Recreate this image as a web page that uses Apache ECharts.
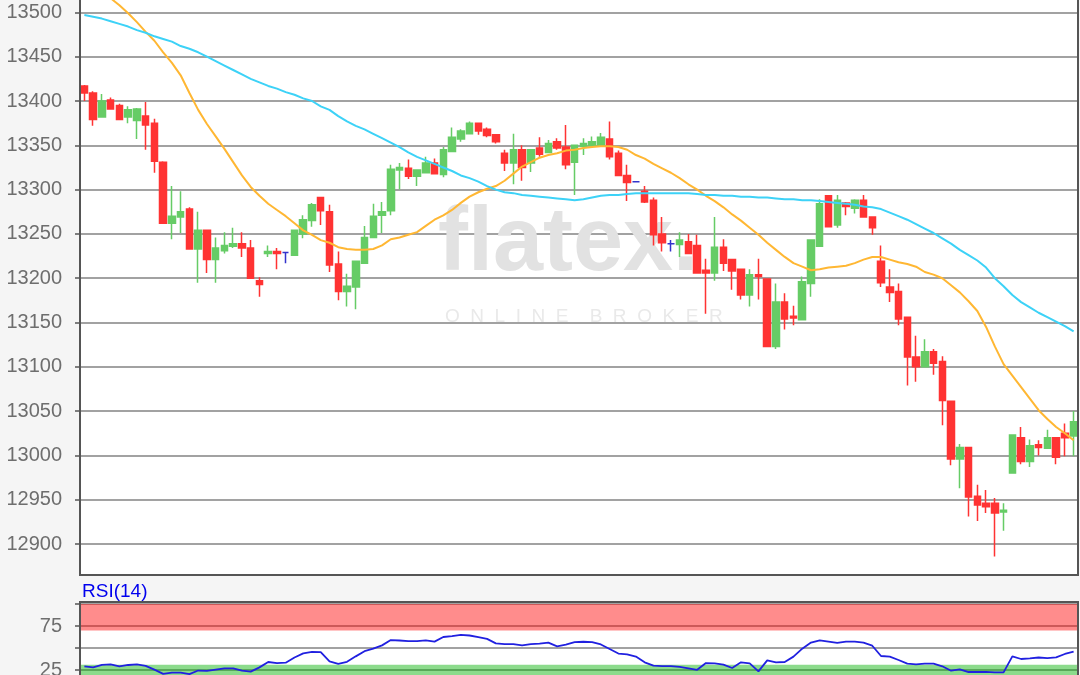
<!DOCTYPE html>
<html><head><meta charset="utf-8">
<script src="https://cdn.jsdelivr.net/npm/echarts@6/dist/echarts.min.js"></script>
<style>html,body{margin:0;padding:0;background:#f5f5f5;overflow:hidden;width:1080px;height:675px;position:relative;}#c{position:absolute;left:0;top:-40px;width:1080px;height:760px;}</style>
</head><body><div id="c"></div>
<script>
// OHLC values
const open  = [13417,13409,13382,13401,13395,13382,13378,13383,13375,13331,13262,13269,13278,13233,13254,13221,13231,13236,13239,13234,13197,13228,13230,13229,13226,13250,13265,13291,13275,13216,13185,13190,13217,13246,13271,13276,13322,13324,13315,13319,13330,13317,13343,13357,13363,13375,13368,13362,13341,13330,13345,13330,13347,13342,13354,13348,13331,13349,13350,13350,13357,13341,13316,13309,13298,13288,13250,13239,13238,13241,13237,13209,13206,13235,13221,13210,13181,13204,13199,13123,13173,13157,13153,13194,13236,13293,13260,13285,13279,13288,13269,13219,13190,13185,13156,13111,13100,13117,13106,13061,12996,13009,12954,12946,12946,12936,12980,13020,12993,13012,13008,13020,13025,13022];
const close = [13409,13379,13400,13391,13379,13390,13391,13373,13332,13262,13270,13275,13233,13254,13221,13234,13237,13239,13234,13200,13193,13230,13228,13229,13254,13266,13283,13276,13215,13185,13191,13219,13246,13270,13275,13323,13325,13315,13322,13330,13318,13345,13359,13366,13375,13366,13361,13354,13330,13345,13325,13345,13340,13352,13347,13328,13350,13352,13354,13359,13337,13316,13308,13309,13286,13249,13240,13239,13243,13228,13206,13206,13235,13217,13208,13181,13204,13202,13123,13173,13154,13155,13196,13243,13284,13258,13288,13281,13288,13269,13257,13195,13184,13154,13111,13100,13117,13104,13062,12996,13009,12953,12944,12942,12935,12938,13023,12993,13011,13009,13020,12998,13020,13038];
const low   = [13400,13372,13382,13391,13379,13375,13357,13345,13319,13262,13244,13251,13233,13195,13206,13195,13228,13234,13224,13200,13179,13224,13210,13217,13226,13245,13258,13260,13207,13175,13168,13165,13217,13246,13251,13271,13300,13312,13304,13319,13318,13314,13343,13354,13363,13362,13359,13352,13321,13306,13310,13320,13337,13342,13345,13323,13294,13339,13348,13350,13334,13316,13287,13309,13285,13237,13230,13230,13224,13228,13206,13160,13197,13208,13187,13176,13168,13176,13123,13120,13142,13147,13153,13179,13236,13258,13257,13271,13273,13269,13249,13190,13173,13147,13079,13083,13100,13091,13034,12989,12963,12931,12926,12935,12886,12915,12980,12990,12987,13000,13008,12990,12999,12999];
const high  = [13418,13411,13408,13404,13397,13394,13392,13399,13380,13332,13304,13298,13280,13275,13255,13246,13252,13257,13252,13243,13201,13237,13234,13229,13255,13271,13285,13291,13283,13230,13205,13219,13259,13284,13286,13328,13330,13334,13322,13337,13335,13348,13370,13368,13377,13375,13370,13362,13345,13363,13350,13345,13359,13356,13358,13373,13350,13358,13360,13364,13377,13344,13328,13309,13304,13291,13269,13243,13252,13250,13249,13222,13269,13244,13221,13210,13210,13222,13199,13194,13183,13169,13202,13243,13289,13294,13294,13286,13289,13294,13269,13237,13210,13194,13156,13135,13131,13120,13112,13061,13013,13009,12967,12961,12952,12946,13023,13032,13018,13017,13029,13020,13036,13050];
// moving averages
const maFast = [13545,13538,13530,13516,13508,13499,13489,13478,13468,13455,13443,13429,13409,13390,13374,13360,13346,13331,13316,13303,13293,13284,13277,13270,13262,13254,13249,13243,13240,13235,13233,13232,13232,13233,13237,13244,13246,13249,13252,13259,13266,13271,13277,13285,13292,13297,13301,13304,13310,13318,13326,13331,13336,13339,13341,13344,13345,13347,13348,13349,13349,13348,13345,13339,13335,13329,13324,13319,13313,13306,13300,13293,13287,13280,13272,13265,13257,13249,13240,13232,13224,13217,13213,13209,13210,13212,13213,13214,13217,13221,13224,13224,13221,13218,13216,13213,13207,13204,13200,13192,13184,13174,13163,13145,13123,13103,13090,13077,13064,13051,13041,13032,13025,13017];
const maSlow = [13497,13495,13493,13490,13487,13484,13480,13477,13473,13470,13467,13462,13459,13455,13450,13445,13440,13435,13430,13425,13421,13417,13414,13410,13407,13403,13400,13394,13390,13383,13377,13372,13368,13363,13358,13353,13348,13342,13337,13333,13329,13325,13321,13316,13313,13309,13304,13300,13297,13296,13294,13293,13292,13291,13290,13289,13288,13289,13291,13293,13294,13294,13295,13296,13296,13296,13296,13296,13296,13296,13295,13294,13294,13293,13293,13292,13292,13291,13291,13290,13289,13289,13288,13288,13287,13286,13285,13284,13283,13281,13280,13278,13274,13270,13266,13261,13256,13251,13245,13239,13232,13226,13220,13212,13200,13191,13181,13173,13167,13161,13156,13151,13146,13140];
const rsi = [29.2,28.0,30.8,31.3,29.2,30.7,31.4,29.7,25.4,20.6,22,22,20.4,24.4,23.9,25.4,26.9,26.9,24.4,23.1,28,34.1,32.8,33.3,39.2,43.9,45.6,45.4,34.9,32,34.3,40.5,46.4,49.2,53,59,58.5,57.7,57.9,58.7,57.2,62.5,63.6,65,64.2,62.3,60.4,55.3,54.5,54.5,53,54.5,54.9,56.1,51.9,53.8,56.6,57.1,56.7,54,48.9,43.7,42.8,40.3,33.7,29.9,29.5,29.5,28.6,26.9,25.2,32.9,32.6,31.1,27.3,33.7,32.6,23.5,36,33.7,34.1,40.2,49.2,56.2,58.7,57.2,55.7,57.2,57.2,56.1,52.6,40.9,40.2,36.4,32.2,31.4,32.2,32.2,29.2,24.2,25.8,22.7,22.7,22.9,22.3,22.3,40.5,37.5,38.3,39.2,38.6,39.4,43.2,45.8];
const priceTicks = [12900,12950,13000,13050,13100,13150,13200,13250,13300,13350,13400,13450,13500];
const rsiTicks = [25,75];
const categories = open.map((_, i) => String(i + 1));

const candles = open.map((o, i) => [o, close[i], low[i], high[i]]);
const labelFont = {color:'#6e6e6e', fontSize:20, fontFamily:'Liberation Sans, Arial, sans-serif'};
const OFF = 40; // container is shifted up by this many pixels

const chart = echarts.init(document.getElementById('c'));
chart.setOption({
  animation:false,
  backgroundColor:'#f5f5f5',
  grid:[
    {left:80, width:998, top:-31.9 + OFF, height:620.2, show:true, backgroundColor:'#ffffff', borderWidth:0},
    {left:80, width:998, top:604 + OFF, height:88, show:true, backgroundColor:'#ffffff', borderWidth:0}
  ],
  xAxis:[
    {type:'category', data:categories, gridIndex:0, boundaryGap:true, axisLine:{show:false}, axisTick:{show:false}, axisLabel:{show:false}, splitLine:{show:false}},
    {type:'category', data:categories, gridIndex:1, boundaryGap:true, axisLine:{show:false}, axisTick:{show:false}, axisLabel:{show:false}, splitLine:{show:false}}
  ],
  yAxis:[
    {type:'value', gridIndex:0, min:12850, max:13550, interval:50,
     axisLine:{show:true, lineStyle:{color:'#555', width:2}},
     axisTick:{show:true, length:5, lineStyle:{color:'#555', width:1.5}},
     axisLabel:Object.assign({margin:18, formatter:v => priceTicks.indexOf(v) >= 0 ? String(v) : ''}, labelFont),
     splitLine:{show:true, lineStyle:{color:'#a2a2a2', width:2}}},
    {type:'value', gridIndex:1, min:0, max:100, interval:25,
     axisLine:{show:true, lineStyle:{color:'#555', width:2}},
     axisTick:{show:true, length:5, lineStyle:{color:'#555', width:1.5}},
     axisLabel:Object.assign({margin:18, formatter:v => rsiTicks.indexOf(v) >= 0 ? String(v) : ''}, labelFont),
     splitLine:{show:true, lineStyle:{color:'#a2a2a2', width:2}}}
  ],
  series:[
    {type:'candlestick', xAxisIndex:0, yAxisIndex:0, data:candles, barWidth:7,
     itemStyle:{color:'#66cc66', color0:'#ff3333', borderColor:'#66cc66', borderColor0:'#ff3333', borderColorDoji:'#3333cc', borderWidth:1.5}},
    {type:'line', xAxisIndex:0, yAxisIndex:0, data:maFast, symbol:'none', lineStyle:{color:'#ffb733', width:2}, z:3},
    {type:'line', xAxisIndex:0, yAxisIndex:0, data:maSlow, symbol:'none', lineStyle:{color:'#3dd2f7', width:2}, z:3},
    {type:'line', xAxisIndex:1, yAxisIndex:1, data:rsi, symbol:'none', lineStyle:{color:'#2020e0', width:1.8}, z:5,
     markArea:{silent:true, data:[
       [{yAxis:70, itemStyle:{color:'rgba(255,0,0,0.45)'}}, {yAxis:100}],
       [{yAxis:0, itemStyle:{color:'rgba(0,175,0,0.45)'}}, {yAxis:31}]
     ]}}
  ],
  graphic:[
    {type:'text', x:438, y:200 + OFF, z:1, style:{text:'flatex.', font:'bold 90px "Liberation Sans", Arial, sans-serif', fill:'#e2e2e2'}},
    {type:'text', x:445, y:307 + OFF, z:1, style:{text:'O  N  L  I  N  E    B  R  O  K  E  R', font:'19px "Liberation Sans", Arial, sans-serif', fill:'#e9e9e9'}},
    {type:'rect', z:90, shape:{x:0, y:576 + OFF, width:1080, height:26}, style:{fill:'#f5f5f5'}},
    {type:'rect', z:95, shape:{x:80, y:-3 + OFF, width:998, height:578}, style:{fill:'none', stroke:'#555', lineWidth:2}},
    {type:'rect', z:95, shape:{x:80, y:602 + OFF, width:998, height:90}, style:{fill:'none', stroke:'#555', lineWidth:2}},
    {type:'text', x:82, y:582 + OFF, z:96, style:{text:'RSI(14)', font:'19px "Liberation Sans", Arial, sans-serif', fill:'#0000ee'}}
  ]
});
</script></body></html>
